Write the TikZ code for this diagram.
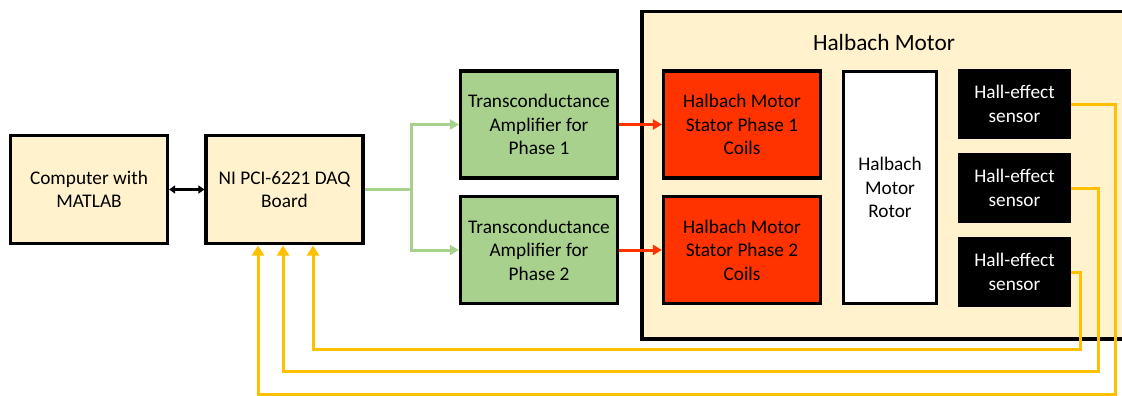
\documentclass[tikz,border=0pt]{standalone}
\usepackage{fontspec}
\setmainfont{Carlito}
\usetikzlibrary{arrows.meta}
\definecolor{beige}{HTML}{FFF2CC}
\definecolor{ampgreen}{HTML}{A9D18E}
\definecolor{coilred}{HTML}{FF3300}
\definecolor{sigyellow}{HTML}{FFC000}
\tikzset{
  lbl/.style={font=\fontsize{19.3}{23.5}\selectfont, align=center, inner sep=0pt},
  blk/.style={lbl, draw=black, line width=3.2pt},
  pcbox/.style={blk, fill=beige, minimum width=157, minimum height=108},
  ampbox/.style={blk, fill=ampgreen, minimum width=157, minimum height=107},
  coilbox/.style={blk, fill=coilred, minimum width=157, minimum height=107},
  rotorbox/.style={blk, fill=white, minimum width=93, minimum height=232},
  hallbox/.style={lbl, fill=black, text=white, minimum width=113, minimum height=70},
  motorframe/.style={draw=black, fill=beige, line width=3.5pt, inner sep=0pt},
  ctrl/.style={draw=ampgreen, line width=3pt, -{Triangle[length=9pt,width=10pt]}},
  drive/.style={draw=coilred, line width=3pt, -{Triangle[length=9pt,width=10pt]}},
  fb/.style={draw=sigyellow, line width=3pt, -{Triangle[length=10pt,width=12pt]}},
  link/.style={draw=black, line width=2.5pt, {Triangle[length=6pt,width=8pt]}-{Triangle[length=6pt,width=8pt]}},
}
\begin{document}
\begin{tikzpicture}[x=1pt,y=-1pt]
\useasboundingbox (0,0) rectangle (1122,396);
\clip (0,0) rectangle (1122,396);

% motor enclosure and its title
\node (motor) [motorframe, minimum width=500, minimum height=327, anchor=north west] at (640,10) {};
\node (motortitle) [lbl, font=\fontsize{23.3}{28}\selectfont] at (884,42) {Halbach Motor};

% control side
\node (pc)  [pcbox] at (89,189.5) {Computer with\\MATLAB};
\node (daq) [pcbox] at (284.5,189.5) {NI PCI-6221 DAQ\\Board};

% amplifiers
\node (amp1) [ampbox] at (539,124.5) {Transconductance\\Amplifier for\\Phase 1};
\node (amp2) [ampbox] at (539,250) {Transconductance\\Amplifier for\\Phase 2};

% motor internals
\node (coil1) [coilbox] at (742,124.5) {Halbach Motor\\Stator Phase 1\\Coils};
\node (coil2) [coilbox] at (742,250) {Halbach Motor\\Stator Phase 2\\Coils};
\node (rotor) [rotorbox] at (890,187.5) {Halbach\\Motor\\Rotor};
\node (hall1) [hallbox] at (1014.5,104) {Hall-effect\\sensor};
\node (hall2) [hallbox] at (1014.5,188) {Hall-effect\\sensor};
\node (hall3) [hallbox] at (1014.5,272) {Hall-effect\\sensor};

% computer <-> DAQ
\draw[link] (pc.east) -- (daq.west);

% DAQ outputs to both amplifiers
\coordinate (split) at (411,189.5);
\draw[ctrl] (daq.east) -- (split) |- (amp1.west);
\draw[ctrl] (split) |- (amp2.west);

% amplifiers drive the stator coils
\draw[drive] (amp1.east) -- (coil1.west);
\draw[drive] (amp2.east) -- (coil2.west);

% sensor feedback to the DAQ
\coordinate (r1) at (1115,394);
\coordinate (r2) at (1098,371);
\coordinate (r3) at (1080,349);
\coordinate (d1) at (258,245.5);
\coordinate (d2) at (283,245.5);
\coordinate (d3) at (313,245.5);
\draw[fb] (hall1.east) -| (r1) -| (d1);
\draw[fb] (hall2.east) -| (r2) -| (d2);
\draw[fb] (hall3.east) -| (r3) -| (d3);
\end{tikzpicture}
\end{document}
